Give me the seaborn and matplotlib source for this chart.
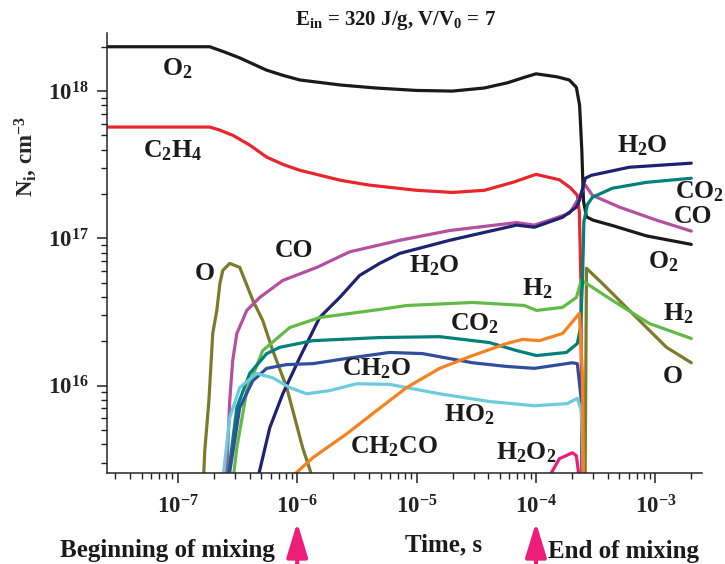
import matplotlib
matplotlib.use("Agg")
import matplotlib.pyplot as plt
import pandas as pd
import seaborn as sns

# ---- species number densities N_i (cm^-3) versus time (s) ----
t_O2 = [2e-8, 1.85e-7, 2.47e-7, 3.3e-7, 5.5e-7, 7.57e-7, 1.05e-6, 2.3e-6, 4.5e-6, 1.0e-5,
        2.0e-5, 3.7e-5, 5.8e-5, 8.0e-5, 1.0e-4, 1.5e-4, 1.9e-4, 2.18e-4, 2.32e-4, 2.42e-4,
        2.5e-4, 2.65e-4, 3.0e-4, 4.4e-4, 8.4e-4, 2.0e-3]
N_O2 = [2.0e18, 2.0e18, 1.84e18, 1.68e18, 1.39e18, 1.28e18, 1.19e18, 1.1e18, 1.05e18, 1.01e18,
        1.0e18, 1.05e18, 1.14e18, 1.24e18, 1.31e18, 1.25e18, 1.19e18, 1.06e18, 8.0e17, 4.0e17,
        1.8e17, 1.4e17, 1.33e17, 1.22e17, 1.04e17, 9.1e16]

t_C2H4 = [2e-8, 1.85e-7, 2.25e-7, 2.9e-7, 4.0e-7, 5.55e-7, 7.57e-7, 1.05e-6, 2.3e-6, 4.0e-6,
          1.0e-5, 2.0e-5, 3.7e-5, 6.4e-5, 1.0e-4, 1.57e-4, 1.95e-4, 2.22e-4, 2.31e-4, 2.38e-4,
          2.42e-4]
N_C2H4 = [5.7e17, 5.7e17, 5.43e17, 5.0e17, 4.3e17, 3.56e17, 3.18e17, 2.9e17, 2.48e17, 2.3e17,
          2.12e17, 2.05e17, 2.12e17, 2.4e17, 2.72e17, 2.5e17, 2.2e17, 1.96e17, 1.5e17, 5.0e16,
          2.3e15]

t_CO = [2.55e-7, 2.72e-7, 2.88e-7, 3.12e-7, 3.78e-7, 4.85e-7, 7.57e-7, 1.46e-6, 2.75e-6, 7.2e-6,
        1.89e-5, 6.87e-5, 9.7e-5, 1.3e-4, 1.91e-4, 2.31e-4, 2.59e-4, 2.97e-4, 5.0e-4, 1.02e-3,
        2.0e-3]
N_CO = [2.3e15, 7.9e15, 1.48e16, 2.26e16, 3.24e16, 3.97e16, 5.18e16, 6.35e16, 8.1e16, 9.7e16,
        1.13e17, 1.28e17, 1.23e17, 1.33e17, 1.48e17, 1.9e17, 2.3e17, 1.96e17, 1.63e17, 1.33e17,
        1.12e17]

t_H2O = [4.65e-7, 5.89e-7, 7.57e-7, 1.05e-6, 1.54e-6, 2.27e-6, 3.33e-6, 4.9e-6, 7.2e-6, 1.89e-5,
         6.87e-5, 9.7e-5, 1.67e-4, 2.18e-4, 2.31e-4, 2.59e-4, 2.91e-4, 6.05e-4, 2.0e-3]
N_H2O = [2.3e15, 5.18e15, 8.8e15, 1.55e16, 2.9e16, 3.97e16, 5.6e16, 6.76e16, 7.9e16, 9.7e16,
         1.23e17, 1.19e17, 1.39e17, 1.63e17, 1.81e17, 2.56e17, 2.68e17, 3.04e17, 3.24e17]

t_O = [1.64e-7, 1.68e-7, 1.82e-7, 1.96e-7, 2.12e-7, 2.25e-7, 2.38e-7, 2.72e-7, 3.3e-7, 4.25e-7,
       5.14e-7, 6.24e-7, 8.17e-7, 1.11e-6, 1.36e-6, 2.58e-4, 2.65e-4, 3.6e-4, 6.42e-4, 1.24e-3,
       2.0e-3]
N_O = [2.3e15, 3.6e15, 7.9e15, 2.26e16, 3.24e16, 4.94e16, 6.06e16, 6.76e16, 6.35e16, 3.79e16,
       2.77e16, 1.73e16, 9.7e15, 3.79e15, 2.3e15, 2.3e15, 6.26e16, 4.94e16, 3.09e16, 1.82e16,
       1.43e16]

t_H2 = [2.9e-7, 3.12e-7, 3.78e-7, 5.14e-7, 8.65e-7, 1.54e-6, 4.9e-6, 8.25e-6, 2.94e-5, 8.0e-5,
        1.01e-4, 1.67e-4, 2.18e-4, 2.4e-4, 2.81e-4, 4.37e-4, 8.91e-4, 2.0e-3]
N_H2 = [2.3e15, 3.79e15, 9.25e15, 1.73e16, 2.48e16, 2.9e16, 3.29e16, 3.5e16, 3.67e16, 3.5e16,
        3.24e16, 3.4e16, 3.97e16, 5.18e16, 4.79e16, 3.79e16, 2.64e16, 2.09e16]

t_CO2 = [2.62e-7, 3.12e-7, 4.0e-7, 5.55e-7, 7.14e-7, 1.35e-6, 4.9e-6, 1.56e-5, 4.08e-5, 6.87e-5,
         1.01e-4, 1.8e-4, 2.22e-4, 2.36e-4, 2.45e-4, 2.52e-4, 2.7e-4, 2.97e-4, 4.37e-4, 8.41e-4,
         2.0e-3]
N_CO2 = [2.3e15, 7.1e15, 1.21e16, 1.65e16, 1.82e16, 2.02e16, 2.12e16, 2.15e16, 1.96e16, 1.73e16,
         1.6e16, 1.68e16, 1.93e16, 2.48e16, 5.0e16, 1.3e17, 1.7e17, 1.9e17, 2.19e17, 2.4e17,
         2.56e17]

t_CH2O = [2.66e-7, 3.3e-7, 4.25e-7, 5.55e-7, 8.17e-7, 1.35e-6, 2.6e-6, 5.94e-6, 1.12e-5, 2.94e-5,
          5.66e-5, 9.7e-5, 2.02e-4, 2.22e-4, 2.4e-4, 2.46e-4]
N_CH2O = [2.3e15, 7.1e15, 1.08e16, 1.31e16, 1.39e16, 1.41e16, 1.53e16, 1.68e16, 1.65e16, 1.43e16,
          1.35e16, 1.31e16, 1.43e16, 1.41e16, 7.9e15, 2.3e15]

t_HO2 = [2.38e-7, 2.72e-7, 3.3e-7, 4.58e-7, 6.24e-7, 8.65e-7, 1.2e-6, 1.87e-6, 3.15e-6, 5.94e-6,
         1.56e-5, 4.08e-5, 9.7e-5, 1.83e-4, 2.22e-4, 2.4e-4, 2.5e-4]
N_HO2 = [2.3e15, 6.06e15, 9.7e15, 1.21e16, 1.13e16, 9.7e15, 8.8e15, 9.25e15, 1.03e16, 1.02e16,
         8.8e15, 7.8e15, 7.3e15, 7.55e15, 8.2e15, 6.76e15, 2.3e15]

t_CH2CO = [8.5e-7, 1.35e-6, 2.6e-6, 4.28e-6, 8.25e-6, 1.56e-5, 2.94e-5, 5.66e-5, 7.71e-5, 1.07e-4,
           1.67e-4, 2.31e-4, 2.45e-4, 2.5e-4]
N_CH2CO = [2.3e15, 3.24e15, 4.71e15, 6.45e15, 9.7e15, 1.31e16, 1.6e16, 1.93e16, 2.06e16, 2.02e16,
           2.26e16, 3.09e16, 1.2e16, 2.3e15]

t_H2O2 = [1.25e-4, 1.57e-4, 2.02e-4, 2.18e-4, 2.31e-4]
N_H2O2 = [2.3e15, 3.19e15, 3.5e15, 3.34e15, 2.3e15]

# ---- axis ticks ----
x_ticks = [1e-7, 1e-6, 1e-5, 1e-4, 1e-3]
x_ticklabels = ["10$^{-7}$", "10$^{-6}$", "10$^{-5}$", "10$^{-4}$", "10$^{-3}$"]
y_ticks = [1e16, 1e17, 1e18]
y_ticklabels = ["10$^{16}$", "10$^{17}$", "10$^{18}$"]

# species drawing order and colours
order = ["O2", "C2H4", "O", "CO", "H2O", "H2", "CO2", "CH2O", "HO2", "CH2CO", "H2O2"]
series = {
    "O2": (t_O2, N_O2), "C2H4": (t_C2H4, N_C2H4), "CO": (t_CO, N_CO),
    "H2O": (t_H2O, N_H2O), "O": (t_O, N_O), "H2": (t_H2, N_H2),
    "CO2": (t_CO2, N_CO2), "CH2O": (t_CH2O, N_CH2O), "HO2": (t_HO2, N_HO2),
    "CH2CO": (t_CH2CO, N_CH2CO), "H2O2": (t_H2O2, N_H2O2),
}
palette = {
    "O2": "#1a1a1a", "C2H4": "#e8262b", "CO": "#b5509f", "H2O": "#1f2272",
    "O": "#7b7b2c", "H2": "#62bb47", "CO2": "#00807a", "CH2O": "#2f4f9e",
    "HO2": "#6ccbdc", "CH2CO": "#f5821f", "H2O2": "#ec1e79",
}

# in-plot labels: (text, t, N at text baseline)
labels = [
    ("O$_2$", 7.3e-8, 1.28e18), ("C$_2$H$_4$", 5.1e-8, 3.56e17),
    ("H$_2$O", 4.8e-4, 3.85e17), ("CO$_2$", 1.47e-3, 1.87e17),
    ("CO", 1.44e-3, 1.28e17), ("O$_2$", 8.6e-4, 6.26e16),
    ("H$_2$", 1.15e-3, 2.77e16), ("O", 1.15e-3, 1.05e16),
    ("O", 1.39e-7, 5.18e16), ("CO", 6.5e-7, 7.43e16),
    ("H$_2$O", 8.7e-6, 5.87e16), ("H$_2$", 7.57e-5, 4.09e16),
    ("CO$_2$", 1.89e-5, 2.37e16), ("CH$_2$O", 2.36e-6, 1.17e16),
    ("HO$_2$", 1.71e-5, 5.69e15), ("CH$_2$CO", 2.75e-6, 3.44e15),
    ("H$_2$O$_2$", 4.67e-5, 3.14e15),
]

frames = []
for name in order:
    t, n = series[name]
    frames.append(pd.DataFrame({"species": name, "t": t, "N": n}))
df = pd.concat(frames, ignore_index=True)

sns.set_theme(style="ticks")
plt.rcParams.update({
    "font.family": ["Liberation Serif", "DejaVu Serif"],
    "font.weight": "bold",
    "mathtext.fontset": "custom",
    "mathtext.rm": "Liberation Serif:bold",
    "mathtext.it": "Liberation Serif:bold",
    "mathtext.bf": "Liberation Serif:bold",
    "axes.linewidth": 1.1,
})

fig = plt.figure(figsize=(7.25, 5.64), dpi=100)
ax = fig.add_axes([0.1476, 0.1613, 0.8204, 0.7802])
ax.set_xscale("log")
ax.set_yscale("log")

sns.lineplot(data=df, x="t", y="N", hue="species", hue_order=order, palette=palette,
             estimator=None, sort=False, legend=False, linewidth=2.3, ax=ax)
for line in ax.get_lines():
    line.set_solid_joinstyle("round")
    line.set_solid_capstyle("round")

ax.set_xlim(2.55e-8, 2.45e-3)
ax.set_ylim(2.55e15, 2.48e18)
ax.spines["top"].set_visible(False)
ax.spines["right"].set_visible(False)

ax.set_xticks(x_ticks)
ax.set_xticklabels(x_ticklabels)
ax.set_yticks(y_ticks)
ax.set_yticklabels(y_ticklabels)
ax.tick_params(axis="both", which="major", direction="out", length=7, width=1.1,
               labelsize=16.5, colors="#222222")
ax.tick_params(axis="x", which="major", pad=9)
ax.tick_params(axis="y", which="major", pad=6)
ax.tick_params(axis="both", which="minor", direction="out", length=4, width=1.0,
               color="#222222")
ax.set_xlabel("")
ax.set_ylabel("N$_i$, cm$^{-3}$", fontsize=16.5, fontweight="bold")
ax.yaxis.set_label_coords(-0.114, 0.72)

for txt, tx, ny in labels:
    ax.text(tx, ny, txt, fontsize=18.5, fontweight="bold", color="#1a1a1a",
            ha="left", va="baseline")

fig.text(0.546, 0.964, "E$_{in}$ = 320 J/g, V/V$_0$ = 7", ha="center", va="center",
         fontsize=15, fontweight="bold", color="#1a1a1a")
fig.text(0.612, 0.022, "Time, s", ha="center", va="baseline", fontsize=18,
         fontweight="bold", color="#1a1a1a")
fig.text(0.083, 0.012, "Beginning of mixing", ha="left", va="baseline", fontsize=18,
         fontweight="bold", color="#1a1a1a")
fig.text(0.756, 0.010, "End of mixing", ha="left", va="baseline", fontsize=18,
         fontweight="bold", color="#1a1a1a")

# mixing markers below the time axis
for t_mark in (1e-6, 1e-4):
    ax.annotate("", xy=(t_mark, 0.074), xytext=(t_mark, -0.02),
                xycoords=("data", "figure fraction"),
                textcoords=("data", "figure fraction"),
                arrowprops=dict(arrowstyle="-|>,head_width=0.32,head_length=1.05",
                                color="#ec1e79", lw=3.0, mutation_scale=20,
                                shrinkA=0, shrinkB=0))

fig.savefig("out.png", dpi=100)
